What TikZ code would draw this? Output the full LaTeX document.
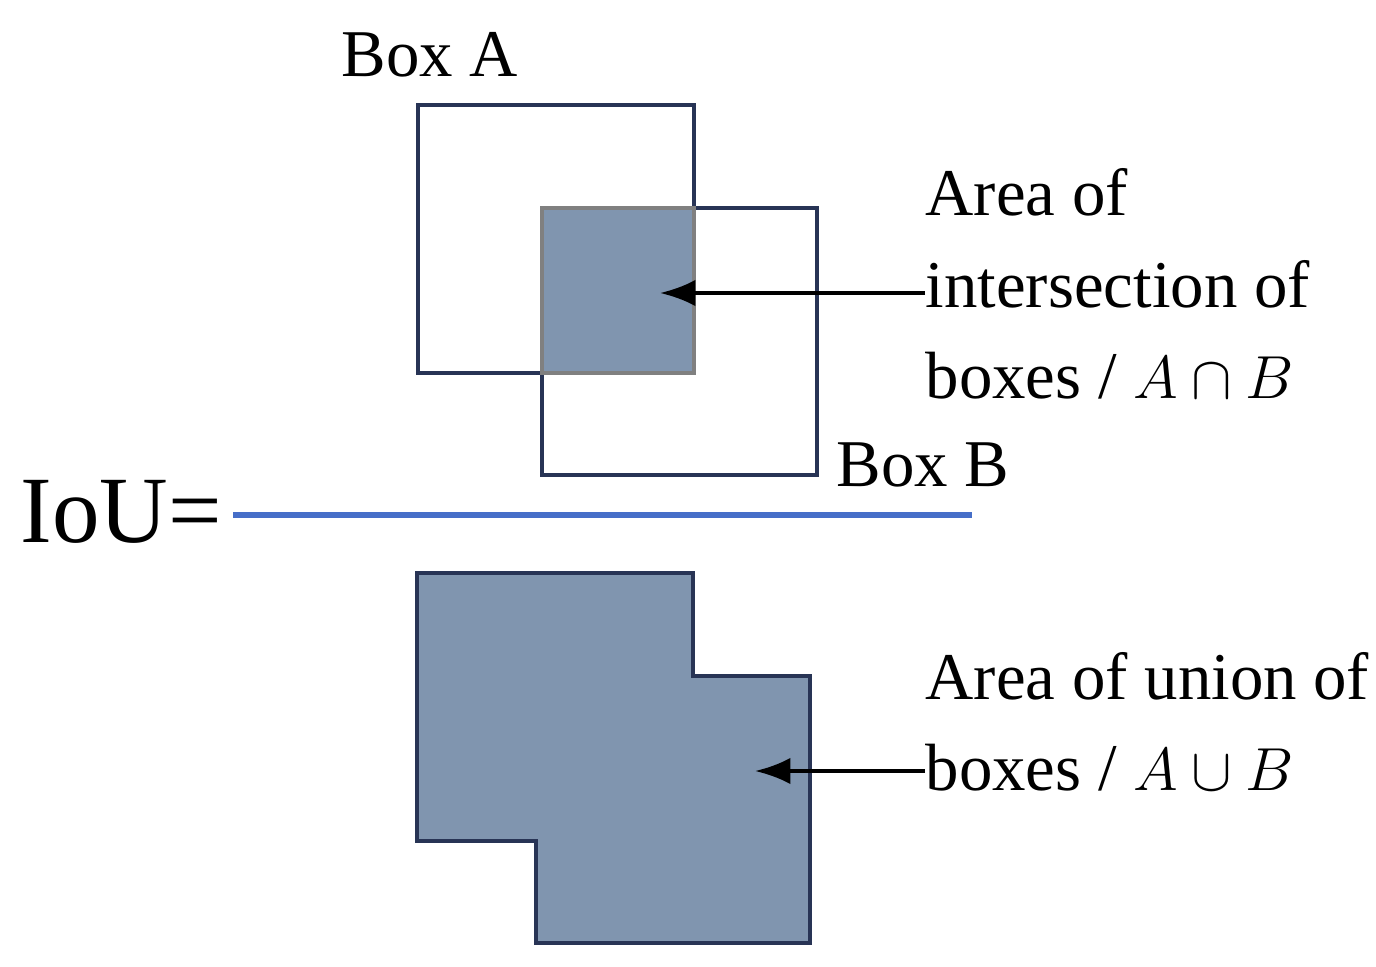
\documentclass[tikz,border=0pt]{standalone}
\usepackage{fontspec}
\setmainfont{Liberation Serif}
\usetikzlibrary{positioning}
\usetikzlibrary{arrows.meta}
\definecolor{boxborder}{RGB}{40,52,85}
\definecolor{boxfill}{RGB}{128,149,175}
\definecolor{fracline}{RGB}{70,110,200}
\begin{document}
\begin{tikzpicture}[x=0.01cm,y=-0.01cm,
      lbl style/.style={font=\fontsize{19}{23}\selectfont,align=left,inner sep=0pt},
      box style/.style={draw=boxborder,line width=1.2pt}
      ]
      \useasboundingbox (0,0) rectangle (1376,967);
      % boxes
      \draw[box style] (418,105) rectangle (694,373);
      \draw[box style] (542,208) rectangle (817,475);
      \draw[draw=gray,fill=boxfill,line width=1.2pt] (542,208) rectangle (694,373);
      \coordinate (inter) at (660,293);
      % union
      \draw[box style,fill=boxfill] (417,573) -- (693,573) -- (693,676) -- (810,676)
        -- (810,943) -- (536,943) -- (536,841) -- (417,841) -- cycle;
      \coordinate (union) at (755,771);
      % labels
      \node[lbl style] (boxa) at (430,55) {Box A};
      \node[lbl style,anchor=west] (boxb) at (836,465) {Box B};
      \node[anchor=west,inner sep=0pt,font=\fontsize{27}{30}\selectfont] (iou) at (20,512) {IoU=};
      \node[lbl style,anchor=west,font=\fontsize{19}{26}\selectfont] (intertext) at (925,284)
        {Area of\\intersection of\\boxes / $A\cap B$};
      \node[lbl style,anchor=west,font=\fontsize{19}{26}\selectfont] (uniontext) at (925,722)
        {Area of union of\\boxes / $A\cup B$};
      \coordinate (fracl) at (233,515);
      \coordinate (fracr) at (972,515);
      \draw[fracline,line width=1.5pt] (fracl) -- (fracr);
      % arrows
      \draw[-{Latex[scale=1.2]},line width=1.2pt] (intertext.west |- inter) -- (inter);
      \draw[-{Latex[scale=1.2]},line width=1.2pt] (uniontext.west |- union) -- (union);
    \end{tikzpicture}
\end{document}
